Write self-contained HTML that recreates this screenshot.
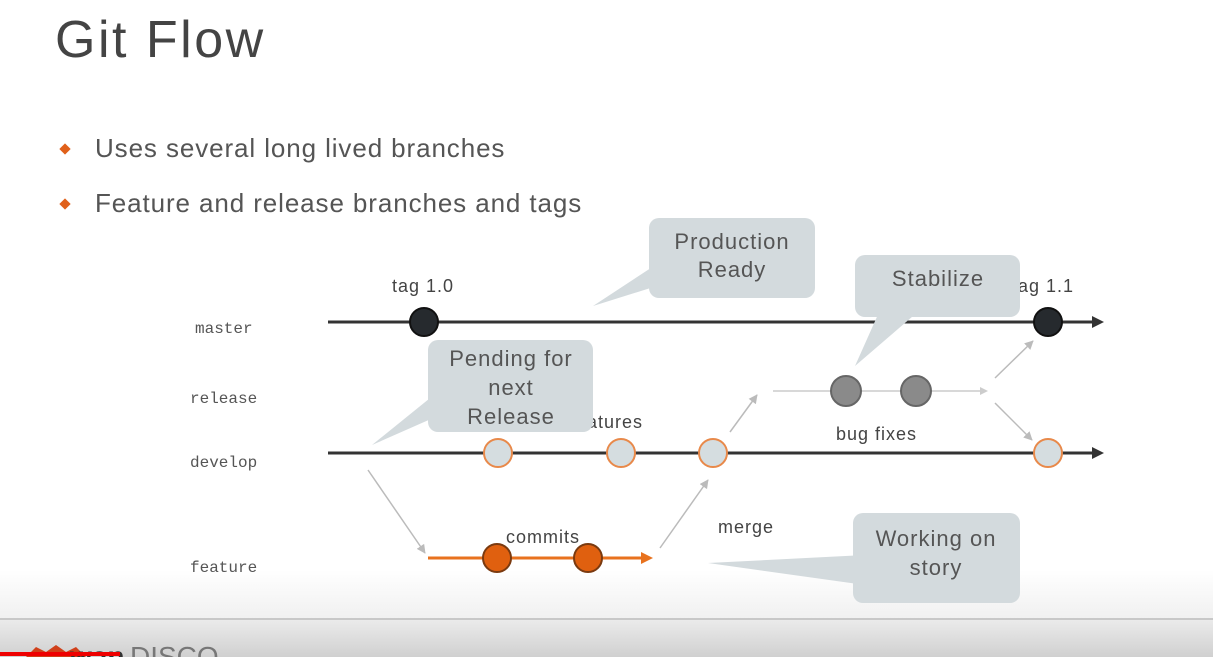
<!DOCTYPE html>
<html><head><meta charset="utf-8"><style>
html,body{margin:0;padding:0;background:#fff;}
body{width:1213px;height:657px;overflow:hidden;position:relative;}
svg{position:absolute;left:0;top:0;}
</style></head><body>
<svg width="1213" height="657" viewBox="0 0 1213 657" xmlns="http://www.w3.org/2000/svg" font-family="Liberation Sans, sans-serif">
<defs>
<linearGradient id="bar" x1="0" y1="0" x2="0" y2="1">
<stop offset="0" stop-color="#ececec"/><stop offset="1" stop-color="#d0d0d0"/></linearGradient>
<linearGradient id="top" x1="0" y1="0" x2="0" y2="1">
<stop offset="0" stop-color="#fff"/><stop offset="1" stop-color="#f0f0f0"/></linearGradient>
<marker id="ga" viewBox="0 0 10 10" refX="9" refY="5" markerWidth="6" markerHeight="6" orient="auto"><path d="M0,0 L10,5 L0,10 Z" fill="#bbb"/></marker>
</defs>
<rect x="0" y="570" width="1213" height="50" fill="url(#top)"/>
<text x="55" y="57" font-size="52" fill="#444" letter-spacing="2.5">Git Flow</text>
<rect x="61" y="145" width="8" height="8" fill="#e0601a" transform="rotate(45 65 149)"/>
<rect x="61" y="200" width="8" height="8" fill="#e0601a" transform="rotate(45 65 204)"/>
<text x="95" y="157" font-size="26" fill="#555" letter-spacing="0.9">Uses several long lived branches</text>
<text x="95" y="212" font-size="26" fill="#555" letter-spacing="0.9">Feature and release branches and tags</text>
<g font-family="Liberation Mono, monospace" font-size="16" fill="#555">
<text x="195" y="333">master</text>
<text x="190" y="403">release</text>
<text x="190" y="467">develop</text>
<text x="190" y="572">feature</text>
</g>
<line x1="328" y1="322" x2="1094" y2="322" stroke="#333" stroke-width="3"/>
<polygon points="1092,316 1104,322 1092,328" fill="#333"/>
<line x1="328" y1="453" x2="1094" y2="453" stroke="#333" stroke-width="3"/>
<polygon points="1092,447 1104,453 1092,459" fill="#333"/>
<line x1="773" y1="391" x2="982" y2="391" stroke="#ccc" stroke-width="1.5"/>
<polygon points="980,387 988,391 980,395" fill="#ccc"/>
<g stroke="#bbb" stroke-width="1.5" fill="none" marker-end="url(#ga)">
<line x1="368" y1="470" x2="425" y2="553"/>
<line x1="660" y1="548" x2="708" y2="480"/>
<line x1="730" y1="432" x2="757" y2="395"/>
<line x1="995" y1="378" x2="1033" y2="341"/>
<line x1="995" y1="403" x2="1032" y2="440"/>
</g>
<line x1="428" y1="558" x2="643" y2="558" stroke="#e8721e" stroke-width="3"/>
<polygon points="641,552 653,558 641,564" fill="#e8721e"/>
<circle cx="424" cy="322" r="14" fill="#262a2e" stroke="#111" stroke-width="2"/>
<circle cx="1048" cy="322" r="14" fill="#262a2e" stroke="#111" stroke-width="2"/>
<g fill="#d5dde0" stroke="#e8894a" stroke-width="2">
<circle cx="498" cy="453" r="14"/><circle cx="621" cy="453" r="14"/>
<circle cx="713" cy="453" r="14"/><circle cx="1048" cy="453" r="14"/>
</g>
<g fill="#8a8a8a" stroke="#666" stroke-width="2">
<circle cx="846" cy="391" r="15"/><circle cx="916" cy="391" r="15"/>
</g>
<g fill="#e0600f" stroke="#7a3a10" stroke-width="2">
<circle cx="497" cy="558" r="14"/><circle cx="588" cy="558" r="14"/>
</g>
<g font-size="18" fill="#444" letter-spacing="1">
<text x="392" y="292">tag 1.0</text>
<text x="1012" y="292">tag 1.1</text>
<text x="570" y="428">features</text>
<text x="506" y="543">commits</text>
<text x="718" y="533">merge</text>
<text x="836" y="440">bug fixes</text>
</g>
<g fill="#d3dadd">
<polygon points="593,306 660,262 660,285"/>
<rect x="649" y="218" width="166" height="80" rx="10"/>
<polygon points="372,445 440,390 440,415"/>
<rect x="428" y="340" width="165" height="92" rx="10"/>
<polygon points="855,366 880,310 920,310"/>
<rect x="855" y="255" width="165" height="62" rx="10"/>
<polygon points="708,563 865,555 865,585"/>
<rect x="853" y="513" width="167" height="90" rx="10"/>
</g>
<g font-size="22" fill="#555" text-anchor="middle" letter-spacing="1">
<text x="732" y="249">Production</text>
<text x="732" y="277">Ready</text>
<text x="511" y="366">Pending for</text>
<text x="511" y="395">next</text>
<text x="511" y="424">Release</text>
<text x="938" y="286">Stabilize</text>
<text x="936" y="546">Working on</text>
<text x="936" y="575">story</text>
</g>
<rect x="0" y="618" width="1213" height="39" fill="url(#bar)"/>
<line x1="0" y1="619" x2="1213" y2="619" stroke="#c8c8c8" stroke-width="2"/>
<path d="M26,657 L36,647 L46,652 L56,645 L66,652 L76,647 L86,657 Z" fill="#d0401a"/>
<text x="70" y="666" font-size="28" fill="#333" font-weight="bold">wan</text>
<text x="130" y="666" font-size="28" fill="#777">DISCO</text>
<rect x="0" y="652" width="120" height="4" fill="#e00"/>
</svg>
</body></html>
